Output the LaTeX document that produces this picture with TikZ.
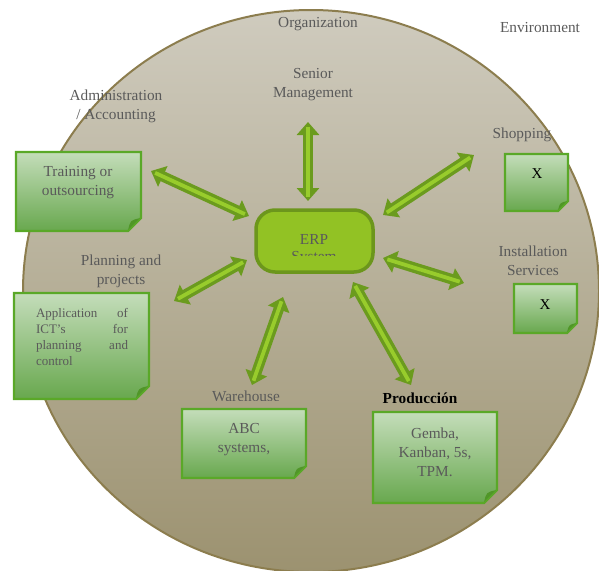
\documentclass[tikz,border=0pt]{standalone}
\usepackage{fontspec}
\setmainfont{Liberation Serif}
\usetikzlibrary{arrows.meta}
\definecolor{circtop}{RGB}{207,203,190}
\definecolor{circbot}{RGB}{156,146,112}
\definecolor{circline}{RGB}{140,125,78}
\definecolor{txtgray}{RGB}{90,90,90}
\definecolor{notetop}{RGB}{196,221,186}
\definecolor{notebot}{RGB}{104,168,78}
\definecolor{noteline}{RGB}{90,168,40}
\definecolor{notefold}{RGB}{80,150,40}
\definecolor{erpfill}{RGB}{146,194,36}
\definecolor{erpline}{RGB}{108,150,28}
\definecolor{arrdark}{RGB}{107,155,30}
\definecolor{arrlight}{RGB}{152,204,44}
\tikzset{
  lbl/.style={font=\fontsize{15.3}{19}\selectfont, text=txtgray, align=center, inner sep=0pt},
  notetxt/.style={font=\fontsize{15.3}{19}\selectfont, text=txtgray, align=center, inner sep=0pt},
  xmark/.style={font=\fontsize{15}{19}\selectfont, text=black, inner sep=0pt},
  notebox/.style={draw=noteline, line width=2.2pt, top color=notetop, bottom color=notebot, line join=miter},
  arrouter/.style={draw=arrdark, line width=10.5pt, {Triangle[width=22pt,length=13pt]}-{Triangle[width=22pt,length=13pt]}},
  arrinner/.style={draw=arrlight, line width=3.8pt, shorten <=4.5pt, shorten >=4.5pt},
}
% \mynote{x1}{y1}{x2}{y2}{c}
\newcommand{\mynote}[5]{%
  \path[notebox] (#1,#2) -- (#3,#2) -- (#3,#4-#5) -- (#3-#5,#4) -- (#1,#4) -- cycle;
  \fill[notefold] (#3,#4-#5) -- (#3-#5,#4) .. controls (#3-0.9*#5,#4-0.5*#5) .. (#3-0.75*#5,#4-0.75*#5) .. controls (#3-0.5*#5,#4-0.9*#5) .. cycle;
  \draw[noteline, line width=1.2pt] (#3,#4-#5) -- (#3-#5,#4);
}
\newcommand{\dblarr}[2]{%
  \draw[arrouter] (#1) -- (#2);
  \draw[arrinner] (#1) -- (#2);
}
\begin{document}
\begin{tikzpicture}[x=1pt,y=-1pt]
\useasboundingbox (0,0) rectangle (599,570);
% organization circle
\path[draw=circline, line width=2pt, top color=circtop, bottom color=circbot] (311,291) ellipse [x radius=288, y radius=281];
\node[lbl] (org) at (318,24) {Organization};
\node[lbl] (env) at (540,28) {Environment};
\node[lbl] (senior) at (313,85) {Senior\\Management};
\node[lbl] (admin) at (116,106.5) {Administration\\/ Accounting};
\node[lbl] (shoplbl) at (522,135) {Shopping};
\node[lbl] (instlbl) at (533,260.5) {Installation\\Services};
\node[lbl] (planlbl) at (121,271.5) {Planning and\\projects};
\begin{scope}
  \clip (150,380) rectangle (350,400.5);
  \node[lbl] (whlbl) at (246,396) {Warehouse};
\end{scope}
\begin{scope}
  \clip (350,380) rectangle (500,403);
  \node[lbl, text=black, font=\fontsize{15.3}{19}\selectfont\bfseries] (prodlbl) at (420,398) {Producción};
\end{scope}
% notes
\mynote{16}{152}{141}{231}{13}
\node[notetxt] (train) at (78,183) {Training or\\outsourcing};
\mynote{505}{154}{568}{211}{10}
\node[xmark] (shopx) at (537,174) {X};
\mynote{514}{284}{577}{333}{10}
\node[xmark] (instx) at (545,305) {X};
\mynote{14}{293}{149}{399}{13}
\node[notetxt, font=\fontsize{13}{16.3}\selectfont, text width=92pt, align=left] (app) at (82,337) {Application\hfill of\\ICT's\hfill for\\planning\hfill and\\control};
\mynote{182}{409}{306}{478}{12}
\node[notetxt] (abc) at (244,440) {ABC\\systems,};
\mynote{373}{412}{497}{503}{13}
\node[notetxt] (gemba) at (435,452) {Gemba,\\Kanban, 5s,\\TPM.};
% ERP box
\draw[fill=erpfill, draw=erpline, line width=3.5pt, rounded corners=19pt] (256,210) rectangle (373,272);
\node[lbl] (erp) at (314,239) {ERP};
\begin{scope}
  \clip (260,245) rectangle (370,255.5);
  \node[lbl] (erpsys) at (314,258) {System};
\end{scope}
% arrows
\coordinate (smA) at (308,122); \coordinate (smB) at (308,201);
\coordinate (adA) at (151,171); \coordinate (adB) at (249,216);
\coordinate (shA) at (383,215); \coordinate (shB) at (474,155);
\coordinate (inA) at (383,258); \coordinate (inB) at (464,283);
\coordinate (plA) at (174,301); \coordinate (plB) at (247,260);
\coordinate (whA) at (283,297); \coordinate (whB) at (252,385);
\coordinate (prA) at (353,282); \coordinate (prB) at (411,385);
\dblarr{smA}{smB}
\dblarr{adA}{adB}
\dblarr{shA}{shB}
\dblarr{inA}{inB}
\dblarr{plA}{plB}
\dblarr{whA}{whB}
\dblarr{prA}{prB}
\end{tikzpicture}
\end{document}
